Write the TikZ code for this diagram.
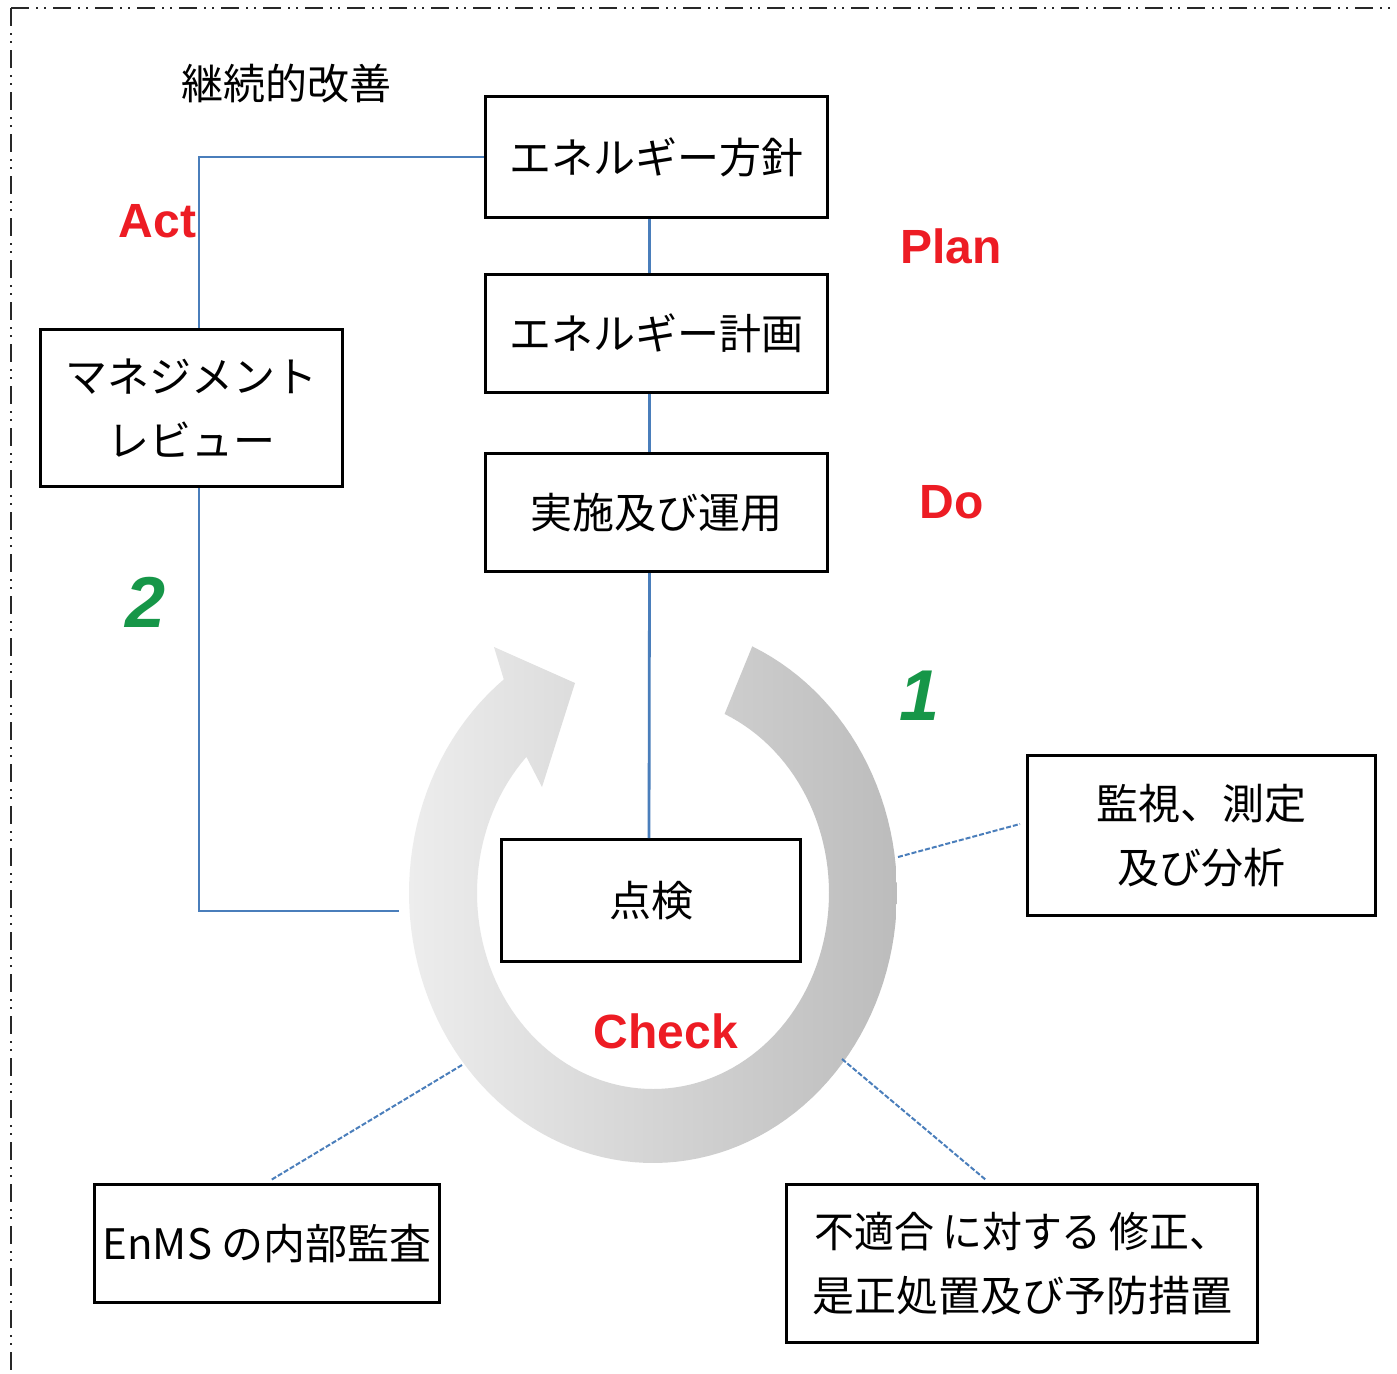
\documentclass[tikz,border=0pt]{standalone}
\usepackage{fontspec}
\usepackage{graphicx}
\setmainfont{Liberation Sans}
\newfontfamily\jpfont{Noto Sans CJK JP}
\newfontfamily\arialfont{Liberation Sans}
\usetikzlibrary{calc}
\definecolor{conblue}{RGB}{74,126,187}
\definecolor{pdred}{RGB}{237,28,36}
\definecolor{numgreen}{RGB}{22,150,72}
\definecolor{ringL}{RGB}{237,237,237}
\definecolor{ringR}{RGB}{188,188,188}
\definecolor{framegray}{RGB}{40,40,40}
\begin{document}
\begin{tikzpicture}[x=1pt,y=-1pt,
  boxnode/.style={draw=black, line width=3pt, fill=white, inner sep=0pt, align=center,
    font=\jpfont\fontsize{42}{64}\selectfont},
  plainjp/.style={inner sep=0pt, font=\jpfont\fontsize{42}{50}\selectfont},
  pdca/.style={inner sep=0pt, anchor=base, text=pdred,
    font=\arialfont\bfseries\fontsize{48}{56}\selectfont},
  numlabel/.style={inner sep=0pt, anchor=base, text=numgreen,
    font=\arialfont\bfseries\itshape\fontsize{72}{80}\selectfont},
  conn/.style={draw=conblue, line width=2.8pt},
  dconn/.style={draw=conblue, line width=2pt, dash pattern=on 5pt off 2pt},
  borderline/.style={draw=framegray, line width=2pt,
    dash pattern=on 18pt off 7pt on 2pt off 6pt on 2pt off 7pt}
]
\useasboundingbox (0,0) rectangle (1397,1373);
\fill[white] (0,0) rectangle (1397,1373);

% outer dash-dot-dot frame (top and left edges visible)
\draw[borderline] (11,8) -- (1397,8);
\draw[borderline] (11,8) -- (11,1373);

% circular arrow
\shade[left color=ringL, right color=ringR]
  plot[domain=0:298.3, samples=120, variable=\u]
    ({653+244*cos(66-\u)}, {893-270*sin(66-\u)})
  -- (494,647) -- (575,683) -- (542,787)
  -- plot[domain=0:290, samples=120, variable=\u]
    ({653+176*cos(-224+\u)}, {893-196*sin(-224+\u)})
  -- cycle;

% title
\node[plainjp] (title) at (286,84) {継続的改善};

% boxes
\node[boxnode, minimum width=342pt, minimum height=121pt] (b1) at (656.5,157) {エネルギー方針};
\node[boxnode, minimum width=342pt, minimum height=118pt] (b2) at (656.5,333.5) {エネルギー計画};
\node[boxnode, minimum width=342pt, minimum height=118pt] (b3) at (656.5,512.5) {実施及び運用};
\node[boxnode, minimum width=302pt, minimum height=157pt] (review) at (191.5,408) {マネジメント\\レビュー};
\node[boxnode, minimum width=299pt, minimum height=122pt] (chk) at (651,900.5) {点検};
\node[boxnode, minimum width=348pt, minimum height=160pt] (mon) at (1201.5,835.5) {監視、測定\\及び分析};
\node[boxnode, minimum width=345pt, minimum height=118pt] (audit) at (267,1243.5) {EnMS の内部監査};
\node[boxnode, minimum width=471pt, minimum height=158pt] (nc) at (1022,1263.5)
  {\scalebox{0.95}[1]{不適合\hspace{0.2em}に対する\hspace{0.2em}修正、}\\[0pt]是正処置及び予防措置};

% coordinates
\coordinate (lend) at (399,911);
\coordinate (rmon) at (898,857);
\coordinate (raud) at (462,1065);
\coordinate (rnc) at (842,1059);

% solid connectors
\draw[conn] (b1.west) -| ([xshift=7.5pt]review.north);
\draw[conn] ([xshift=-7pt]b1.south) -- ([xshift=-7pt]b2.north);
\draw[conn] ([xshift=-7pt]b2.south) -- ([xshift=-7pt]b3.north);
\draw[conn] ([xshift=-7pt]b3.south) -- ([xshift=-2pt]chk.north);
\draw[conn] ([xshift=7.5pt]review.south) |- (lend);

% dashed connectors
\draw[dconn] (rmon) -- ($(mon.west)+(-6,-11.5)$);
\draw[dconn] (raud) -- ($(audit.north)+(4,-3)$);
\draw[dconn] (rnc) -- ($(nc.north)+(-36,-3)$);

% PDCA labels
\node[pdca] (act) at (157.5,237) {Act};
\node[pdca] (plan) at (951,263) {Plan};
\node[pdca] (do) at (951.5,518) {Do};
\node[pdca] (check) at (666,1048) {Check};

% numbers
\node[numlabel] (n2) at (146,627) {2};
\node[numlabel] (n1) at (920,720) {1};
\end{tikzpicture}
\end{document}
